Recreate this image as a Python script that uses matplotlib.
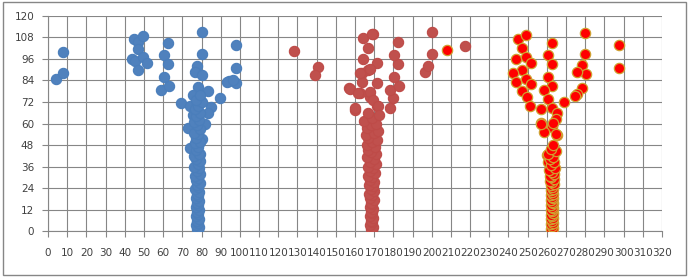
import matplotlib
matplotlib.use("Agg")
import matplotlib.pyplot as plt
from matplotlib.patches import Rectangle

# series 1 (blue): scattered points + dense column near x=78
blue_x = [4, 8, 8, 43.6, 44.8, 45.3, 46.7, 46.7, 46.7, 49.3, 49.3, 51.4,
          58.7, 60.4, 60.4, 62.7, 62.7, 63.2, 69.3, 80.1, 80.1, 77.8, 76.6,
          80.1, 78.3, 83.5, 89.6, 84.8, 83.5, 81.8, 80.1, 79.2, 72.8, 74,
          75.4, 75.4, 74, 98, 98, 94.2, 98, 93.2, 96.6,
          78, 77.5, 78.5, 77, 78, 77.5, 78.5, 77, 78, 77.5, 78.5, 77, 78,
          77.5, 78.5, 77, 78, 77.5, 78.5, 76.5, 78, 77.5, 79, 77, 78, 76.5,
          79, 77.5, 78.5, 76, 78, 79, 77, 76, 78.5, 77, 78, 76.5, 79, 77,
          78, 76, 79, 77.5, 76, 78.5, 77, 79, 76.5, 78, 80, 77, 79]
blue_y = [84.8, 87.9, 100, 95.7, 106.8, 94.8, 105.2, 89.8, 101.4, 108.7,
          96.8, 93.5, 78.6, 98.1, 86, 105, 93.1, 80.9, 71.6, 110.7, 98.7,
          92.2, 88.8, 87, 80.1, 78.1, 74, 69, 66, 59.7, 51.2, 43, 57.3, 46.2,
          64.7, 75.8, 69.7, 103.7, 91, 83.6, 82.4, 83.3, 84.2,
          0.5, 1.5, 2.5, 3.5, 4.5, 6, 7, 8.5, 9.5, 11, 12, 13.5, 14.5, 16,
          17, 18.5, 19.5, 21, 22, 23.5, 24.5, 26, 27, 28.5, 29.5, 31, 32,
          33.5, 35, 36, 37.5, 39, 40, 42, 43, 45, 47, 49, 50, 52, 54, 55, 57,
          59, 61, 62, 64, 66, 68, 70, 72, 73, 76]

# series 2 (dark red): scattered points + dense column near x=169
red_x = [128.2, 140.5, 139.1, 157, 160, 164.3, 169.2, 167, 164.3, 171.3,
         163.5, 167, 171.3, 163.5, 162.6, 167.8, 171.3, 178.2, 180, 178.2,
         183, 180.3, 182.5, 180.3, 182.5, 196.5, 198.2, 200, 200, 217.3,
         168.7, 157.4, 161.7, 167.8, 169.6, 160, 172.1, 162.6, 167.8,
         169, 168.5, 169.5, 168, 169, 168.5, 169.5, 168, 169, 168.5, 169.5,
         168, 169, 168.5, 170, 168, 169, 167.5, 170, 168.5, 169.5, 167.5,
         170, 168, 169, 167, 170.5, 168, 169.5, 167, 171, 168, 170, 166.5,
         171, 168.5, 167, 170.5, 166, 169, 171.5, 167, 165.5, 170, 172, 166,
         168.5, 171, 164.5, 169, 172.5, 167]
red_y = [100.5, 91.3, 87, 79.9, 67.5, 107.4, 109.6, 101.8, 95.7, 93.8,
         88.3, 89.8, 82.4, 83.3, 76.8, 74.9, 69.7, 68.4, 74, 78.6, 80.9,
         86, 93.1, 98.1, 105.5, 88.8, 92, 98.7, 111, 103.1,
         109.8, 79.4, 76.8, 77.7, 73, 68.4, 69.7, 87.9, 90.1,
         0.5, 1.5, 2.5, 3.5, 5, 6, 7.5, 8.5, 10, 11, 12.5, 13.5, 15, 16,
         17.5, 18.5, 20, 21, 22.5, 23.5, 25, 26, 27.5, 28.5, 30, 31, 32.5,
         33.5, 35, 36, 37.5, 38.5, 40, 41.5, 43, 44, 45.5, 47, 48, 49.5, 51,
         52, 53.5, 55, 56, 57.5, 59, 60, 61.5, 63, 64.5, 66]

# series 3 (red, golden edge): scattered points + dense column near x=262.5
gold_x = [208, 244.8, 249.1, 246.8, 244, 249.1, 251.5, 246.8, 242.5, 244,
          249.1, 251.5, 246.8, 249.8, 251.2, 262.5, 260.4, 262.5, 260.4,
          262.5, 258.5, 260.4, 269, 257.2, 262.5, 265.4, 264.7, 256.7, 262.5,
          265.4, 258.5, 279.8, 279.8, 278.1, 280.4, 275.8, 278.1, 275.8,
          274.8, 297.7, 297.7, 257.2, 263.3, 265, 259.9, 260.7, 264.2, 263.3,
          262.5, 262, 263, 262.5, 262, 263, 262.5, 262, 263, 262.5, 262, 263,
          262.5, 262, 263, 262.5, 262, 263, 262.5, 262, 263, 262.5, 262, 263,
          262.5, 262, 263, 262.5, 262, 263.5, 262.5, 261.5, 263.5, 262, 261.5,
          263.5, 262.5, 261, 264, 262, 263.5, 261.5, 263, 260.5, 264.5,
          262, 263]
gold_y = [101, 106.8, 109.2, 101.8, 95.7, 97.2, 93.5, 89.8, 88.3, 83.3,
          84.6, 82, 78.2, 74.6, 69.7, 105, 98.1, 93.1, 86, 80.9, 78.6, 73.6,
          71.8, 67.9, 68.8, 66, 62.3, 60.1, 58.2, 53.6, 55.4, 110.5, 99, 92.5,
          87.4, 88.8, 79.9, 76.4, 75.3, 103.7, 91, 59.7, 60.1, 54.1, 42.5,
          38.7, 45.2, 41.5,
          0.3, 1.2, 2.1, 3, 3.9, 4.8, 5.7, 6.6, 7.5, 8.4, 9.3, 10.2, 11.1, 12,
          12.9, 13.8, 14.7, 15.6, 16.5, 17.4, 18.3, 19.2, 20.1, 21, 21.9,
          22.8, 23.7, 24.6, 25.5, 26.4, 27.3, 28.2, 29.1, 30, 31, 32, 33, 34,
          35.5, 37, 38.5, 40, 41.5, 43, 44.5, 46, 48]

x_ticks = list(range(0, 321, 10))
y_ticks = list(range(0, 121, 12))

fig = plt.figure(figsize=(6.89, 2.77), dpi=100)
ax = fig.add_axes([0.0697, 0.165, 0.8911, 0.778])

ax.scatter(blue_x, blue_y, s=55, c="#4F81BD", edgecolors="#4A7EBB",
           linewidths=0.8, zorder=3)
ax.scatter(red_x, red_y, s=55, c="#C0504D", edgecolors="#BE4B48",
           linewidths=0.8, zorder=4)
ax.scatter(gold_x, gold_y, s=55, c="#FF0000", edgecolors="#D0A030",
           linewidths=0.9, zorder=5)

ax.set_xlim(0, 320)
ax.set_ylim(0, 120)
ax.set_xticks(x_ticks)
ax.set_yticks(y_ticks)
ax.tick_params(axis="both", labelsize=7.5, colors="#404040",
               length=4, width=0.8, color="#868686")
ax.tick_params(axis="x", pad=8)
ax.tick_params(axis="y", pad=6)
ax.grid(True, color="#868686", linewidth=0.8)
ax.set_axisbelow(True)
for side in ["top", "right"]:
    ax.spines[side].set_visible(False)
for side in ["left", "bottom"]:
    ax.spines[side].set_color("#868686")
    ax.spines[side].set_linewidth(0.8)

# outer chart border
fig.patches.append(Rectangle((0.004, 0.007), 0.992, 0.986,
                             transform=fig.transFigure, fill=False,
                             edgecolor="#868686", linewidth=1.0))

fig.savefig("out.png", dpi=100)
